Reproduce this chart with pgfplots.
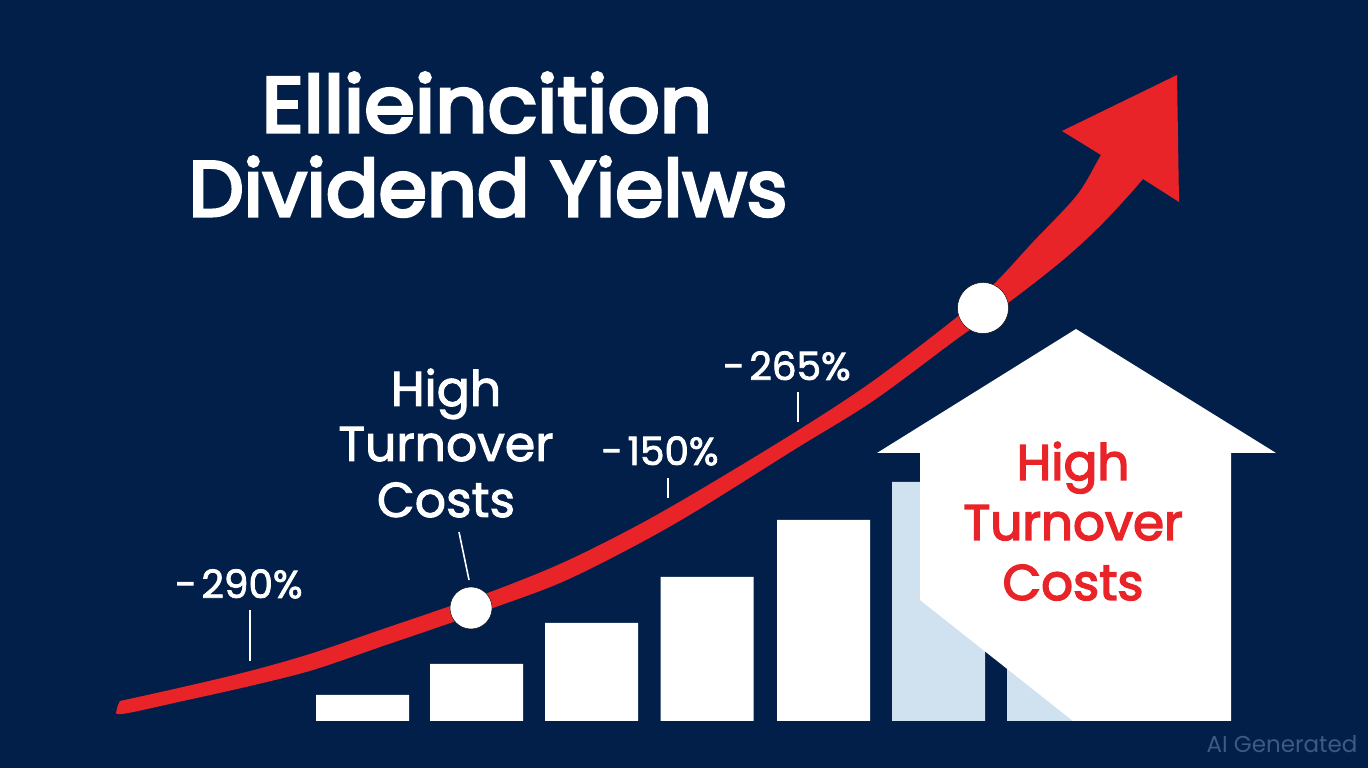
\documentclass[border=0pt]{standalone}
\usepackage{fontspec}
\setmainfont{Poppins}
\newfontfamily\medfont[FakeBold=2]{Poppins}
\newfontfamily\redfont[FakeBold=3]{Poppins}
\newfontfamily\titlefont[FakeBold=4]{Poppins}
\usepackage{pgfplots}
\pgfplotsset{compat=1.18}
\definecolor{navy}{HTML}{021F49}
\definecolor{arrowred}{HTML}{E82428}
\definecolor{lightbar}{HTML}{D0E1F0}
\definecolor{aigrey}{HTML}{3C5A84}
\newcommand{\fs}[1]{\fontsize{#1}{#1}\selectfont}
\begin{document}
\begin{tikzpicture}
\fill[navy] (0,0) rectangle (1368pt,768pt);
\begin{axis}[
    at={(0,0)},
    anchor=south west,
    scale only axis,
    width=1368pt,
    height=768pt,
    xmin=0, xmax=1368,
    ymin=-47, ymax=721,
    hide axis,
    clip=false,
    ybar,
    bar shift=0pt,
    bar width=93,
]
% bars, height above the base line
\addplot[fill=white, draw=none] coordinates {
    (362.5,26) (476.5,57) (591.5,98) (707,144) (823.5,201)
};
\addplot[fill=lightbar, draw=none] coordinates {
    (938.5,239) (1053.5,260)
};
% house
\addplot[sharp plot, fill=white, draw=none] coordinates {
    (1076,392) (1276,268) (1231,268) (1231,0) (1073,0)
    (920,121) (920,268) (877,268) (1076,392)
};
% red curve, upper edge then lower edge
\addplot[smooth, tension=0.55, fill=arrowred, draw=none] coordinates {
    (120,20) (183,34) (250,50) (313,68) (383,92) (433,109) (493,130)
    (560,157) (627,190) (693,227) (797,290) (873,340) (957,404)
    (995,438) (1033,479) (1077,526) (1101,566) (1115,586)
    (1155,561) (1143,542)
    (1103,498) (1063,461) (1008,418) (957,382) (873,320) (797,273)
    (693,208) (627,171) (560,138) (493,113) (433,92) (383,75)
    (313,51) (250,35) (183,20) (122,7) (117,12) (120,20)
};
% arrow head
\addplot[sharp plot, fill=arrowred, draw=none] coordinates {
    (1101,566) (1062,590) (1177,646) (1179,519) (1143,542) (1101,566)
};
% leader lines
\addplot[sharp plot, white, line width=1.6pt] coordinates {(250,111) (250,60)};
\addplot[sharp plot, white, line width=1.6pt] coordinates {(459,189) (469,141)};
\addplot[sharp plot, white, line width=1.6pt] coordinates {(668,243) (668,223)};
\addplot[sharp plot, white, line width=1.6pt] coordinates {(798,329) (798,299)};
% circles on the curve
\addplot[only marks, mark=*, mark size=21pt, mark options={fill=white, draw=none}] coordinates {(471,113)};
\addplot[only marks, mark=*, mark size=25.5pt, mark options={fill=white, draw=none}] coordinates {(983,413)};
% title
\node[anchor=base, white, xscale=1.05] at (axis cs:487,589) {\fs{78}\titlefont Ellieincition};
\node[anchor=base, white, xscale=1.0] at (axis cs:488,505) {\fs{78}\titlefont Dividend Yielws};
% left callout
\node[anchor=base, white] at (axis cs:446,315) {\fs{49}\medfont High};
\node[anchor=base, white] at (axis cs:446,260) {\fs{49}\medfont Turnover};
\node[anchor=base, white] at (axis cs:446,204) {\fs{49}\medfont Costs};
% percent labels
\node[anchor=base, white] at (axis cs:239,123) {\fs{39}\medfont -\hspace{0.12em}290\%};
\node[anchor=base, white] at (axis cs:660,256) {\fs{39}\medfont -\hspace{0.12em}150\%};
\node[anchor=base, white] at (axis cs:787,341) {\fs{39}\medfont -\hspace{0.12em}265\%};
% house text
\node[anchor=base, arrowred] at (axis cs:1073,241) {\fs{50}\redfont High};
\node[anchor=base, arrowred] at (axis cs:1073,181) {\fs{50}\redfont Turnover};
\node[anchor=base, arrowred] at (axis cs:1073,121) {\fs{50}\redfont Costs};
% watermark
\node[anchor=base, aigrey] at (axis cs:1282,-32) {\fs{23}AI Generated};
\end{axis}
\end{tikzpicture}
\end{document}
